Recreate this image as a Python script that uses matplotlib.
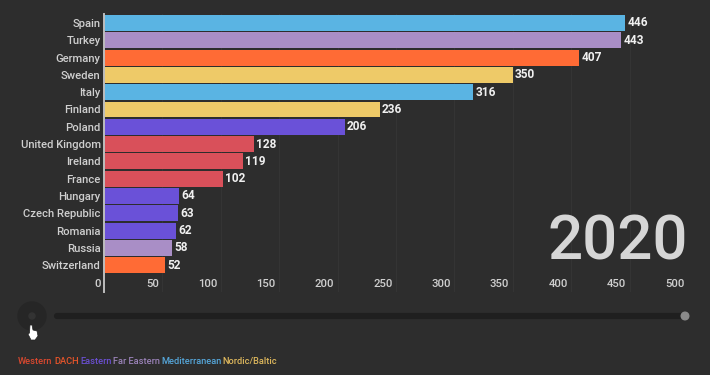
import matplotlib
matplotlib.use('Agg')
import matplotlib.pyplot as plt
from matplotlib.patches import Circle, Polygon
from matplotlib.transforms import ScaledTranslation

plt.rcParams['font.family'] = ['Roboto', 'DejaVu Sans']

countries = ['Spain', 'Turkey', 'Germany', 'Sweden', 'Italy', 'Finland', 'Poland', 'United Kingdom',
             'Ireland', 'France', 'Hungary', 'Czech Republic', 'Romania', 'Russia', 'Switzerland']
values = [446, 443, 407, 350, 316, 236, 206, 128, 119, 102, 64, 63, 62, 58, 52]
regions = ['Mediterranean', 'Far Eastern', 'DACH', 'Nordic/Baltic', 'Mediterranean', 'Nordic/Baltic', 'Eastern',
           'Western', 'Western', 'Western', 'Eastern', 'Eastern', 'Eastern', 'Far Eastern', 'DACH']
xticks = [0, 50, 100, 150, 200, 250, 300, 350, 400, 450, 500]
year = '2020'

bar_colours = {'Western': '#d9505a', 'DACH': '#ff6b35', 'Eastern': '#6a51d8',
               'Far Eastern': '#a98ec6', 'Mediterranean': '#5ab4e3', 'Nordic/Baltic': '#eeca68'}
legend_colours = {'Western': '#d9482f', 'DACH': '#e8552a', 'Eastern': '#6a4fd0',
                  'Far Eastern': '#9a82b8', 'Mediterranean': '#55a5d8', 'Nordic/Baltic': '#dcb65c'}
legend_x = [18, 54, 80, 113, 161, 222]
legend_names = ['Western', 'DACH', 'Eastern', 'Far Eastern', 'Mediterranean', 'Nordic/Baltic']

bg = '#2d2d2d'
W, H = 710, 375

fig = plt.figure(figsize=(W / 100, H / 100), dpi=100, facecolor=bg)

# axes box in pixels: left 104, right 688, top 14, bottom 292
ax = fig.add_axes([104 / W, (H - 292) / H, 584 / W, 278 / H], facecolor=bg)
pos = list(range(len(countries)))
ax.barh(pos, values, height=0.92, color=[bar_colours[r] for r in regions])
ax.set_xlim(0, 500)
ax.set_ylim(15.55, -0.52)
ax.set_yticks(pos)
ax.set_yticklabels(countries)
ax.set_xticks(xticks)
ax.tick_params(axis='y', length=0, pad=2.4, labelsize=8.1, labelcolor='#cfcfcf')
ax.tick_params(axis='x', length=0, pad=-9.5, labelsize=8.2, labelcolor='#cfcfcf')
for label in ax.get_yticklabels():
    label.set_fontweight('medium')
shift = ScaledTranslation(-3.5 / 100, 0, fig.dpi_scale_trans)
for label in ax.get_xticklabels():
    label.set_horizontalalignment('right')
    label.set_fontweight('medium')
    label.set_transform(label.get_transform() + shift)
ax.grid(axis='x', color='#353535', lw=0.7)
ax.set_axisbelow(True)
for side in ['top', 'right', 'bottom']:
    ax.spines[side].set_visible(False)
ax.spines['left'].set_color('#bdbdbd')
ax.spines['left'].set_linewidth(1.4)

for p, v in zip(pos, values):
    ax.text(v + 2, p, str(v), va='center', ha='left', color='#f0f0f0', fontsize=8.6, fontweight='bold')

# pixel coordinate overlay for year, slider and legend
over = fig.add_axes([0, 0, 1, 1], facecolor='none')
over.set_xlim(0, W)
over.set_ylim(H, 0)
over.axis('off')

over.text(688, 260, year, ha='right', va='baseline', color='#d6d6d6', fontsize=44.5, fontweight='medium')

over.plot([57, 685], [316, 316], color='#1f1f1f', lw=4.5, solid_capstyle='round', zorder=1)
over.add_patch(Circle((685, 316), 3.8, color='#8a8a8a', zorder=2))
over.add_patch(Circle((32, 316), 14, color='#262626', zorder=2))
over.add_patch(Circle((32, 316), 3, color='#333333', zorder=3))

hand = [(30, 325), (32, 325), (33, 330), (37, 331), (38, 336), (35, 340), (31, 340), (28, 334), (29.5, 333)]
over.add_patch(Polygon(hand, closed=True, facecolor='white', edgecolor='#222222', lw=0.5, zorder=4))

for name, x in zip(legend_names, legend_x):
    over.text(x, 361, name, ha='left', va='center', color=legend_colours[name], fontsize=6.7, fontweight='medium')

fig.savefig('out.png', dpi=100, facecolor=bg)
